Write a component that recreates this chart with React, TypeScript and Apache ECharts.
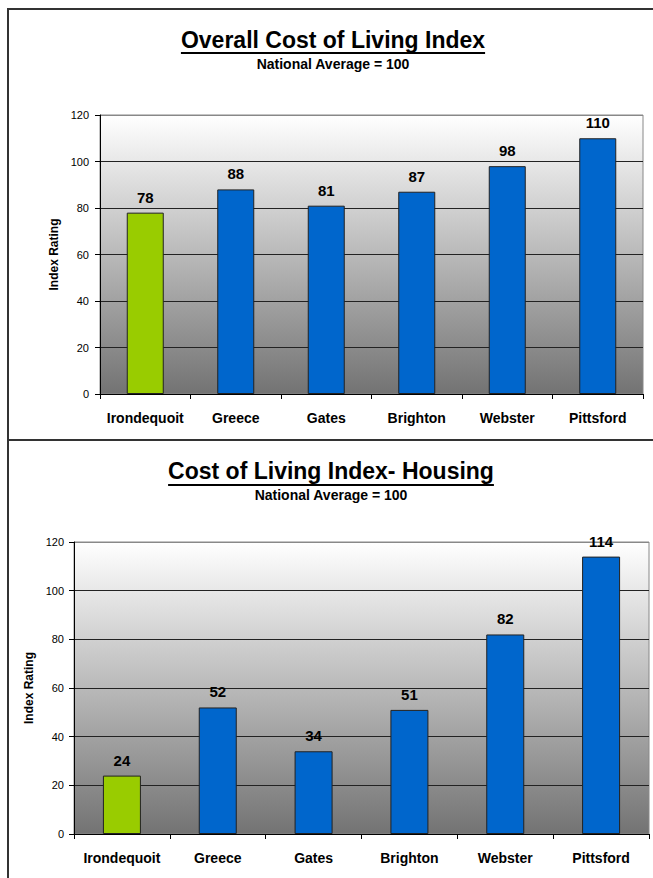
import React, { useEffect, useRef } from "react";
import * as echarts from "echarts";

const categories = ["Irondequoit", "Greece", "Gates", "Brighton", "Webster", "Pittsford"];
const overallValues = [78, 88, 81, 87, 98, 110];
const housingValues = [24, 52, 34, 51, 82, 114];
const yMin = 0;
const yMax = 120;
const yInterval = 20;
const title1 = "Overall Cost of Living Index";
const title2 = "Cost of Living Index- Housing";
const subtitle = "National Average = 100";
const yAxisName = "Index Rating";

const FONT = "'Liberation Sans', Arial, Helvetica, sans-serif";
const GREEN = "#99CC00";
const BLUE = "#0066CC";

function measure(text: string, size: number, weight = "bold") {
  const c = document.createElement("canvas").getContext("2d");
  if (!c) return text.length * size * 0.55;
  c.font = `${weight} ${size}px 'Liberation Sans', Arial, sans-serif`;
  return c.measureText(text).width;
}

const plotBg = {
  type: "linear",
  x: 0,
  y: 0,
  x2: 0,
  y2: 1,
  colorStops: [
    { offset: 0, color: "#ffffff" },
    { offset: 1, color: "#737373" },
  ],
};

const splitColors = ["#000", "#222", "#222", "#222", "#222", "#222", "#888"];

function makeTitle(text: string, cx: number, cy: number, underlineY: number, subY: number) {
  const w = measure(text, 23);
  return [
    {
      type: "text",
      x: cx,
      y: cy,
      style: {
        text,
        font: `bold 23px ${FONT}`,
        fill: "#000",
        align: "center",
        verticalAlign: "middle",
      },
    },
    {
      type: "line",
      shape: { x1: cx - w / 2, y1: underlineY, x2: cx + w / 2, y2: underlineY },
      style: { stroke: "#000", lineWidth: 2 },
    },
    {
      type: "text",
      x: cx,
      y: subY,
      style: {
        text: subtitle,
        font: `bold 14px ${FONT}`,
        fill: "#000",
        align: "center",
        verticalAlign: "middle",
      },
    },
  ];
}

function xAxisCfg(gridIndex: number) {
  return {
    type: "category",
    gridIndex,
    data: categories,
    boundaryGap: true,
    axisLine: { show: true, lineStyle: { color: "#000", width: 1 } },
    axisTick: { show: true, alignWithLabel: false, length: 5, lineStyle: { color: "#000" } },
    axisLabel: {
      color: "#000",
      fontFamily: FONT,
      fontWeight: "bold",
      fontSize: 14,
      margin: 17,
      interval: 0,
    },
    splitLine: { show: false },
  };
}

function yAxisCfg(gridIndex: number, nameGap: number, margin: number) {
  return {
    type: "value",
    gridIndex,
    min: yMin,
    max: yMax,
    interval: yInterval,
    name: yAxisName,
    nameLocation: "middle",
    nameRotate: 90,
    nameGap,
    nameTextStyle: { color: "#000", fontFamily: FONT, fontWeight: "bold", fontSize: 12 },
    axisLine: { show: true, lineStyle: { color: "#000", width: 1 } },
    axisTick: { show: true, length: 5, lineStyle: { color: "#000" } },
    axisLabel: { color: "#000", fontFamily: FONT, fontSize: 11, margin },
    splitLine: { show: true, lineStyle: { color: splitColors, width: 1 } },
  };
}

function barSeries(idx: number, values: number[], barWidth: number) {
  return {
    type: "bar",
    xAxisIndex: idx,
    yAxisIndex: idx,
    data: values,
    barWidth,
    itemStyle: {
      color: (p: any) => (p.dataIndex === 0 ? GREEN : BLUE),
      borderColor: "#222",
      borderWidth: 1,
    },
    label: {
      show: true,
      position: "top",
      distance: 8,
      color: "#000",
      fontFamily: FONT,
      fontWeight: "bold",
      fontSize: 15,
    },
  };
}

export default function App() {
  const ref = useRef<HTMLDivElement>(null);
  useEffect(() => {
    if (!ref.current) return;
    const chart = echarts.init(ref.current, undefined, { renderer: "svg" });
    const option: any = {
      animation: false,
      backgroundColor: "#fff",
      textStyle: { fontFamily: FONT },
      grid: [
        {
          left: 100,
          right: 10,
          top: 115,
          bottom: 484,
          show: true,
          backgroundColor: plotBg,
          borderColor: "#888",
          borderWidth: 1,
          containLabel: false,
        },
        {
          left: 74,
          right: 4,
          top: 542,
          bottom: 44,
          show: true,
          backgroundColor: plotBg,
          borderColor: "#888",
          borderWidth: 1,
          containLabel: false,
        },
      ],
      xAxis: [xAxisCfg(0), xAxisCfg(1)],
      yAxis: [yAxisCfg(0, 38, 11), yAxisCfg(1, 36, 10)],
      series: [barSeries(0, overallValues, 37), barSeries(1, housingValues, 38)],
      graphic: [
        {
          type: "rect",
          shape: { x: 8, y: 9, width: 800, height: 1000 },
          style: { fill: "none", stroke: "#333", lineWidth: 2 },
          silent: true,
        },
        {
          type: "line",
          shape: { x1: 8, y1: 440, x2: 700, y2: 440 },
          style: { stroke: "#333", lineWidth: 2 },
          silent: true,
        },
        ...makeTitle(title1, 333, 40, 53, 64),
        ...makeTitle(title2, 331, 471, 485, 495),
      ],
    };
    chart.setOption(option);
    return () => chart.dispose();
  }, []);
  return (
    <div
      ref={ref}
      style={{ position: "absolute", left: 0, top: 0, width: 653, height: 878 }}
    />
  );
}
